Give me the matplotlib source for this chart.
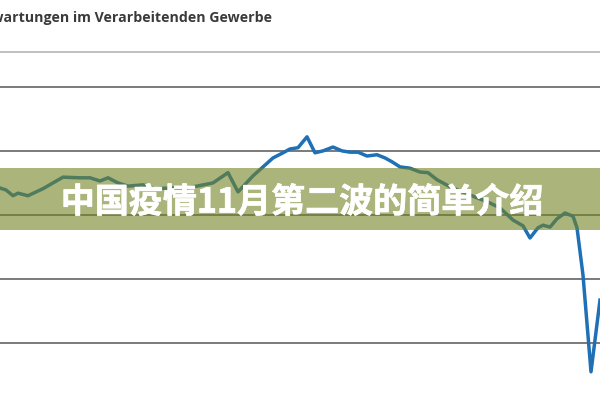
import matplotlib
matplotlib.use("Agg")
import matplotlib.pyplot as plt
import matplotlib.patheffects as pe
from matplotlib.patches import Rectangle

# traced series (x = position along time axis, y = index balance)
t = [0, 6, 13, 18, 28, 43, 63, 80, 90, 100, 108, 118, 128, 143, 155, 170,
     185, 197, 213, 228, 238, 253, 263, 273, 283, 290, 298, 307, 315, 323,
     333, 342, 350, 358, 367, 377, 385, 392, 400, 410, 420, 428, 437, 450,
     462, 475, 488, 500, 513, 523, 530, 538, 543, 550, 557, 565, 573, 577,
     583, 591, 600]
values = [4.2, 3.9, 3.0, 3.4, 3.0, 4.1, 5.9, 5.8, 5.8, 5.3, 5.8, 5.0, 4.5,
          4.7, 4.1, 4.2, 4.2, 4.5, 5.0, 6.6, 3.6, 6.1, 7.5, 8.9, 9.7, 10.3,
          10.5, 12.2, 9.7, 10.0, 10.6, 10.0, 9.8, 9.8, 9.2, 9.4, 8.9, 8.3,
          7.5, 7.3, 6.7, 6.6, 5.5, 4.4, 3.6, 2.8, 2.0, 1.1, -0.8, -1.7, -3.6,
          -2.0, -1.6, -1.9, -0.6, 0.3, -0.2, -2.0, -9.4, -24.5, -13.3]
grid_values = [-20, -10, 0, 10, 20]

title = "Erwartungen im Verarbeitenden Gewerbe"
banner_text = "中国疫情11月第二波的简单介绍"

fig = plt.figure(figsize=(6, 4), dpi=100)
ax = fig.add_axes([0, 0, 1, 349 / 400])
ax.set_xlim(0, 600)
ax.set_ylim(-28.9, 25.6)
ax.axis("off")

for g in grid_values:
    ax.axhline(g, color="#7a7a7a", lw=1.4, zorder=1)
ax.axhline(25.45, color="#b5b5b5", lw=1.2, zorder=1)

ax.plot(t, values, color="#1f70b5", lw=2.5, solid_joinstyle="round", zorder=2)

# banner across the chart
fig.patches.append(Rectangle((0, 170 / 400), 1, 62 / 400, transform=fig.transFigure,
                             facecolor="#738322", alpha=0.6, edgecolor="none", zorder=5))
fig.text(0.503, 0.495, banner_text, color="white", fontsize=24.5, fontweight="bold",
         family=["Noto Sans CJK SC", "DejaVu Sans"], ha="center", va="center", zorder=6,
         path_effects=[pe.Stroke(linewidth=0.5, foreground="white"), pe.Normal()])

fig.text(272 / 600, 1 - 18 / 400, title, color="#3a3a3a", fontsize=10.15, fontweight="bold",
         family=["Open Sans", "DejaVu Sans"], ha="right", va="center")

fig.savefig("out.png", dpi=100)
